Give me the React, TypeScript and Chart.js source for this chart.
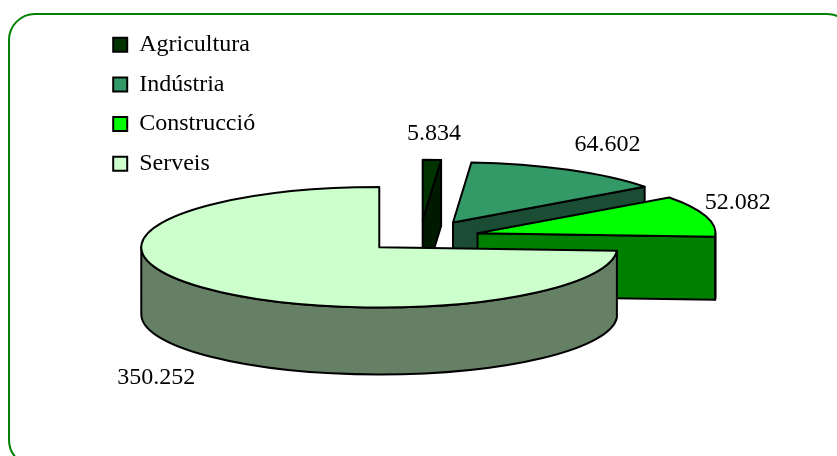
import React, { useEffect, useRef } from "react";
import { Chart, registerables } from "chart.js";

Chart.register(...registerables);

const categories = ["Agricultura", "Indústria", "Construcció", "Serveis"];
const values = [5834, 64602, 52082, 350252];
const valueLabels = ["5.834", "64.602", "52.082", "350.252"];
const topColors = ["#003300", "#339966", "#00ff00", "#ccffcc"];
const sideColors = ["#001a00", "#1a4d33", "#008000", "#668066"];
const explode = [69, 68, 60, 56];
const depths = [66, 66, 63, 67];
const labelNudge = [[2, -26], [39, -25], [32, -13], [-50, 22]];

const SQUASH = 60 / 237;
const FONT = "'Liberation Serif', 'Times New Roman', serif";

const pie3d = {
  id: "pie3d",
  beforeDraw(chart: any) {
    const { ctx } = chart;
    ctx.save();
    ctx.fillStyle = "#ffffff";
    ctx.fillRect(0, 0, chart.width, chart.height);
    ctx.strokeStyle = "#008000";
    ctx.lineWidth = 2;
    ctx.beginPath();
    ctx.roundRect(9, 14, 844, 452, 26);
    ctx.stroke();
    ctx.restore();
  },
  afterLayout(chart: any) {
    chart.legend.left = 97.5;
    chart.legend.top = 17;
  },
  beforeDatasetsDraw(chart: any) {
    const { ctx } = chart;
    const arcs = chart.getDatasetMeta(0).data;
    arcs.forEach((arc: any, i: number) => {
      const h = (arc.startAngle + arc.endAngle) / 2;
      const off = explode[i];
      const depth = depths[i];
      const r = arc.outerRadius;
      const ry = r * SQUASH;
      const cx = arc.x + Math.cos(h) * off;
      const cy = arc.y + SQUASH * Math.sin(h) * off;
      const px = (a: number) => cx + r * Math.cos(a);
      const py = (a: number) => cy + ry * Math.sin(a);
      ctx.save();
      ctx.lineJoin = "round";
      ctx.lineWidth = 2;
      ctx.strokeStyle = "#000000";
      ctx.fillStyle = sideColors[i];

      const face = (a: number) => {
        ctx.beginPath();
        ctx.moveTo(cx, cy);
        ctx.lineTo(px(a), py(a));
        ctx.lineTo(px(a), py(a) + depth);
        ctx.lineTo(cx, cy + depth);
        ctx.closePath();
        ctx.fill();
        ctx.stroke();
      };
      const endA = arc.endAngle;
      if (Math.cos(endA) > 0.001) face(endA);
      const a1 = Math.max(arc.startAngle, 0);
      const a2 = Math.min(arc.endAngle, Math.PI);
      if (a2 > a1) {
        ctx.beginPath();
        ctx.ellipse(cx, cy, r, ry, 0, a1, a2);
        ctx.lineTo(px(a2), py(a2) + depth);
        ctx.ellipse(cx, cy + depth, r, ry, 0, a2, a1, true);
        ctx.closePath();
        ctx.fill();
        ctx.stroke();
      }

      ctx.save();
      ctx.translate(cx, cy);
      ctx.scale(1, SQUASH);
      ctx.translate(-arc.x, -arc.y);
      arc.draw(ctx);
      ctx.restore();

      ctx.beginPath();
      ctx.moveTo(cx, cy);
      ctx.ellipse(cx, cy, r, ry, 0, arc.startAngle, arc.endAngle);
      ctx.closePath();
      ctx.stroke();
      ctx.restore();
    });

    ctx.save();
    ctx.fillStyle = "#000000";
    ctx.font = `24px ${FONT}`;
    ctx.textAlign = "center";
    ctx.textBaseline = "middle";
    arcs.forEach((arc: any, i: number) => {
      const h = (arc.startAngle + arc.endAngle) / 2;
      const off = explode[i];
      const r = arc.outerRadius;
      const sinH = Math.sin(h);
      const rimX = arc.x + Math.cos(h) * (off + r);
      const rimY = arc.y + SQUASH * sinH * (off + r) + (sinH > 0 ? depths[i] : 0);
      ctx.fillText(valueLabels[i], rimX + labelNudge[i][0], rimY + labelNudge[i][1]);
    });
    ctx.restore();
    return false;
  },
};

export default function App() {
  const ref = useRef<HTMLCanvasElement>(null);
  useEffect(() => {
    const base = (Chart as any).overrides.doughnut.plugins.legend.labels.generateLabels;
    const chart = new Chart(ref.current!, {
      type: "pie",
      data: {
        labels: categories,
        datasets: [
          {
            data: values,
            backgroundColor: topColors,
            borderWidth: 0,
          },
        ],
      },
      options: {
        animation: false,
        responsive: false,
        radius: 238,
        layout: { padding: { left: 3, top: 19 } },
        plugins: {
          tooltip: { enabled: false },
          legend: {
            position: "chartArea",
            align: "start",
            labels: {
              boxWidth: 14,
              boxHeight: 14,
              padding: 15.7,
              color: "#000000",
              font: { family: FONT, size: 24 },
              generateLabels: (c: any) =>
                base(c).map((l: any) => ({ ...l, strokeStyle: "#000000", lineWidth: 2 })),
            },
          },
        },
      } as any,
      plugins: [pie3d as any],
    });
    return () => chart.destroy();
  }, []);
  return (
    <canvas
      ref={ref}
      width={837}
      height={456}
      style={{ position: "absolute", left: 0, top: 0, width: 837, height: 456 }}
    />
  );
}
